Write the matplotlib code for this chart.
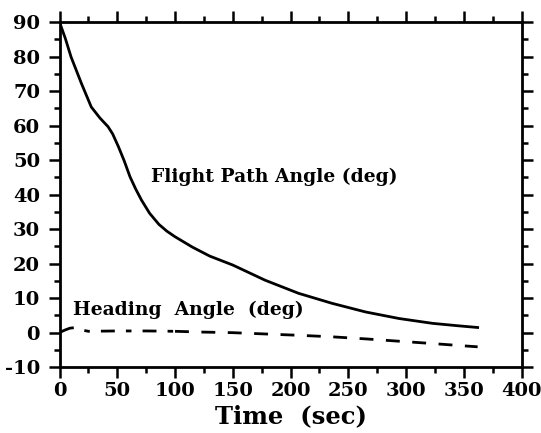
import numpy as np
import matplotlib.pyplot as plt
from matplotlib.ticker import MultipleLocator

# flight path angle history (deg)
fpa_t = [0, 5, 10, 19, 27.5, 35, 42, 46, 51, 56, 61, 66, 71, 78, 86, 93, 100,
         115, 130, 150, 178, 207, 236, 265, 294, 323, 345, 362]
fpa_deg = [90, 85.3, 79.9, 72.2, 65.4, 62.2, 59.7, 57.6, 53.9, 49.8, 45.2, 41.6, 38.4, 34.6, 31.4, 29.4, 27.8,
           24.8, 22.2, 19.6, 15.2, 11.4, 8.5, 6.0, 4.1, 2.7, 2.0, 1.5]

# heading angle history (deg)
hdg_t = [1, 5, 9, 14, 19, 25, 50, 75, 100, 120, 150, 180, 210, 236, 265, 295, 325, 345, 362]
hdg_deg = [0.2, 0.8, 1.3, 1.5, 0.8, 0.4, 0.5, 0.5, 0.4, 0.2, 0.0, -0.4, -0.8, -1.2, -1.8, -2.5, -3.2, -3.7, -4.1]

xticks = [0, 50, 100, 150, 200, 250, 300, 350, 400]
yticks = [-10, 0, 10, 20, 30, 40, 50, 60, 70, 80, 90]

plt.rcParams['font.family'] = ['DejaVu Serif']
plt.rcParams['font.weight'] = 'bold'
plt.rcParams['axes.unicode_minus'] = False

fig = plt.figure(figsize=(5.41, 4.33), dpi=100)
ax = fig.add_axes([0.11, 0.152, 0.854, 0.797])

ax.plot(fpa_t, fpa_deg, color='black', lw=2.0)
# dash-dot for the early part, plain dashes after
ax.plot(hdg_t[:9], hdg_deg[:9], color='black', lw=2.0, dashes=(5, 4, 2, 4))
ax.plot(hdg_t[8:], hdg_deg[8:], color='black', lw=2.0, dashes=(5, 4.5))

ax.text(79, 43.7, 'Flight Path Angle (deg)', fontsize=13.5, fontweight='bold', va='baseline')
ax.text(11.5, 5.1, 'Heading  Angle  (deg)', fontsize=13.5, fontweight='bold', va='baseline')

ax.set_xlim(0, 400)
ax.set_ylim(-10, 90)
ax.set_xticks(xticks)
ax.set_yticks(yticks)
ax.xaxis.set_minor_locator(MultipleLocator(25))
ax.yaxis.set_minor_locator(MultipleLocator(5))
ax.tick_params(which='both', direction='out', top=True, right=True, width=1.8, labelsize=14)
ax.tick_params(which='major', length=8)
ax.tick_params(which='minor', length=4)
ax.tick_params(axis='y', pad=6)
ax.tick_params(axis='x', pad=3)
for s in ax.spines.values():
    s.set_linewidth(2)

ax.set_xlabel('Time  (sec)', fontsize=17.5, fontweight='bold', labelpad=3)

fig.savefig('out.png', dpi=100)
